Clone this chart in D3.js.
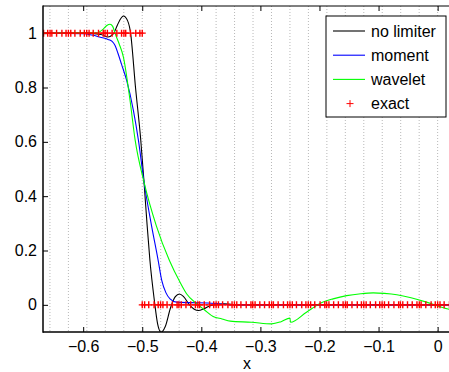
<!DOCTYPE html>
<html lang="en">
<head>
<meta charset="UTF-8">
<title>Limiter comparison</title>
<script src="https://d3js.org/d3.v7.min.js"></script>
<style>
    body { margin: 0; background: #fff; }
    svg { display: block; font-family: "Liberation Sans", Arial, sans-serif; }
    .axis text { font-size: 16px; fill: #000; }
    .axis line { stroke: #000; }
    .axis path { display: none; }
    .grid line { stroke: #b8b8b8; stroke-dasharray: 1,2; }
    .curve { fill: none; stroke-width: 1.1; }
</style>
</head>
<body>
<svg width="449" height="372"></svg>
<script>
    // Curves: [x, y]
    const noLimiter = [
        [-0.668, 1.0], [-0.60, 1.0], [-0.57, 0.995], [-0.558, 0.986], [-0.549, 0.997],
        [-0.542, 1.03], [-0.536, 1.055], [-0.532, 1.063], [-0.527, 1.055], [-0.52, 1.005],
        [-0.5114, 0.80], [-0.5025, 0.606], [-0.497, 0.452], [-0.492, 0.30],
        [-0.487, 0.163], [-0.4795, 0.016], [-0.474, -0.07], [-0.468, -0.101],
        [-0.461, -0.08], [-0.452, -0.01], [-0.444, 0.03], [-0.437, 0.040], [-0.43, 0.03],
        [-0.42, 0.0], [-0.412, -0.016], [-0.405, -0.021], [-0.396, -0.015], [-0.386, -0.004],
        [-0.374, 0.001], [-0.362, 0.004], [-0.35, 0.002], [-0.34, 0.0], [0.025, 0.0]
    ];
    const moment = [
        [-0.668, 1.0], [-0.60, 0.998], [-0.585, 0.993], [-0.571, 0.985], [-0.558, 0.977],
        [-0.551, 0.97], [-0.546, 0.955], [-0.541, 0.925], [-0.535, 0.885], [-0.5265, 0.827],
        [-0.515, 0.716], [-0.5065, 0.606], [-0.497, 0.452], [-0.485, 0.3], [-0.473, 0.163],
        [-0.467, 0.09], [-0.46, 0.045], [-0.453, 0.022], [-0.442, 0.01], [-0.42, 0.008],
        [-0.39, 0.007], [-0.37, 0.004], [-0.35, 0.0], [0.025, 0.0]
    ];
    const wavelet = [
        [-0.668, 1.0], [-0.577, 1.001], [-0.566, 1.015], [-0.56, 1.028], [-0.5545, 1.033],
        [-0.55, 1.025], [-0.546, 0.999], [-0.539, 0.96], [-0.532, 0.913], [-0.5207, 0.753],
        [-0.512, 0.606], [-0.497, 0.452], [-0.476, 0.29], [-0.454, 0.163], [-0.436, 0.083],
        [-0.425, 0.041], [-0.408, 0.004], [-0.395, -0.018], [-0.38, -0.043], [-0.365, -0.052],
        [-0.351, -0.06], [-0.315, -0.064], [-0.281, -0.07], [-0.265, -0.062], [-0.25, -0.049],
        [-0.249, -0.064], [-0.222, -0.027], [-0.194, 0.01], [-0.177, 0.022], [-0.154, 0.034],
        [-0.13, 0.041], [-0.109, 0.044], [-0.09, 0.042], [-0.069, 0.037], [-0.045, 0.026],
        [-0.019, 0.01], [0.0, -0.004], [0.025, -0.02]
    ];

    // exact solution nodes
    const exactLeftX = [
        -0.667, -0.660, -0.656, -0.653, -0.645, -0.636, -0.629, -0.625, -0.621, -0.614,
        -0.605, -0.598, -0.594, -0.590, -0.583, -0.574, -0.566, -0.563, -0.559, -0.551,
        -0.543, -0.535, -0.531, -0.528, -0.520, -0.511, -0.504, -0.500
    ];
    const exactRightX = [
        -0.500, -0.496, -0.489, -0.480, -0.473, -0.469, -0.465, -0.458, -0.449, -0.441,
        -0.438, -0.434, -0.426, -0.418, -0.410, -0.406, -0.403, -0.395, -0.386, -0.379,
        -0.375, -0.371, -0.364, -0.355, -0.348, -0.344, -0.340, -0.333, -0.324, -0.316,
        -0.313, -0.309, -0.301, -0.293, -0.285, -0.281, -0.278, -0.270, -0.261, -0.254,
        -0.250, -0.246, -0.239, -0.230, -0.223, -0.219, -0.215, -0.208, -0.199, -0.191,
        -0.188, -0.184, -0.176, -0.168, -0.160, -0.156, -0.153, -0.145, -0.136, -0.129,
        -0.125, -0.121, -0.114, -0.105, -0.098, -0.094, -0.090, -0.083, -0.074, -0.066,
        -0.063, -0.059, -0.051, -0.043, -0.035, -0.031, -0.028, -0.020, -0.011, -0.004,
        0.000, 0.004, 0.011, 0.020
    ];
    const exactLeftY = 1, exactRightY = 0;

    const xTicks = [-0.6, -0.5, -0.4, -0.3, -0.2, -0.1, 0];
    const yTicks = [0, 0.2, 0.4, 0.6, 0.8, 1];
    const legendNames = ["no limiter", "moment", "wavelet", "exact"];
    const colors = ["#000000", "#0000ff", "#00ff00", "#ff0000"];

    const pLeft = 43, pTop = 6, pBottom = 332, pRight = 452.4;

    const svg = d3.select("svg");

    const x = d3.scaleLinear().domain([-0.668, 0.025]).range([pLeft, pRight]);
    const y = d3.scaleLinear().domain([-0.1, 1.1]).range([pBottom, pTop]);

    svg.append("defs").append("clipPath").attr("id", "plot")
        .append("rect").attr("x", pLeft).attr("y", pTop)
        .attr("width", pRight - pLeft).attr("height", pBottom - pTop);

    // dotted vertical grid at the cell boundaries (1/32)
    const gridX = d3.range(-21, 1).map(k => k / 32);
    svg.append("g").attr("class", "grid")
        .selectAll("line").data(gridX).join("line")
        .attr("x1", d => x(d)).attr("x2", d => x(d))
        .attr("y1", pTop).attr("y2", pBottom);

    const fmt = d => d3.format("")(d).replace("-", "\u2212");

    svg.append("g").attr("class", "axis")
        .attr("transform", "translate(0," + pBottom + ")")
        .call(d3.axisBottom(x).tickValues(xTicks).tickSizeInner(-5).tickSizeOuter(0)
            .tickPadding(9).tickFormat(fmt));

    svg.append("g").attr("class", "axis")
        .attr("transform", "translate(0," + pTop + ")")
        .call(d3.axisTop(x).tickValues(xTicks).tickSizeInner(-5).tickSizeOuter(0)
            .tickFormat(""));

    svg.append("g").attr("class", "axis")
        .attr("transform", "translate(" + pLeft + ",0)")
        .call(d3.axisLeft(y).tickValues(yTicks).tickSizeInner(-5).tickSizeOuter(0)
            .tickPadding(6).tickFormat(fmt));

    const line = d3.line().curve(d3.curveMonotoneX).x(d => x(d[0])).y(d => y(d[1]));
    const plot = svg.append("g").attr("clip-path", "url(#plot)");

    [noLimiter, moment, wavelet].forEach((s, i) => {
        plot.append("path").attr("class", "curve")
            .attr("d", line(s)).attr("stroke", colors[i]);
    });

    const plus = "M-3.5,0H3.5M0,-3.5V3.5";
    const exactPts = exactLeftX.map(v => [v, exactLeftY])
        .concat(exactRightX.map(v => [v, exactRightY]));
    plot.append("g").selectAll("path").data(exactPts).join("path")
        .attr("d", plus)
        .attr("transform", d => "translate(" + x(d[0]) + "," + y(d[1]) + ")")
        .attr("stroke", colors[3]).attr("stroke-width", 1.4).attr("fill", "none");

    // frame
    svg.append("line").attr("x1", pLeft).attr("x2", pLeft).attr("y1", pTop - 0.5).attr("y2", pBottom + 0.75)
        .attr("stroke", "#000").attr("stroke-width", 1.5);
    svg.append("line").attr("x1", pLeft).attr("x2", pRight).attr("y1", pBottom).attr("y2", pBottom)
        .attr("stroke", "#000").attr("stroke-width", 1.5);
    svg.append("line").attr("x1", pLeft).attr("x2", pRight).attr("y1", pTop).attr("y2", pTop)
        .attr("stroke", "#000").attr("stroke-width", 1);

    svg.append("text").attr("x", x(-0.3225)).attr("y", 369)
        .attr("text-anchor", "middle").attr("font-size", 16).text("x");

    // legend
    const lg = svg.append("g").attr("transform", "translate(326,16)");
    lg.append("rect").attr("width", 120).attr("height", 101)
        .attr("fill", "#fff").attr("stroke", "#000").attr("stroke-width", 1);
    legendNames.forEach((name, i) => {
        const cy = 15 + i * 24.2;
        if (i < 3) {
            lg.append("line").attr("x1", 7).attr("x2", 39).attr("y1", cy).attr("y2", cy)
                .attr("stroke", colors[i]).attr("stroke-width", 1.1);
        } else {
            lg.append("path").attr("d", plus).attr("transform", "translate(24," + cy + ")")
                .attr("stroke", colors[i]).attr("fill", "none");
        }
        lg.append("text").attr("x", 45).attr("y", cy).attr("dy", "0.35em")
            .attr("font-size", 16).text(name);
    });
</script>
</body>
</html>
